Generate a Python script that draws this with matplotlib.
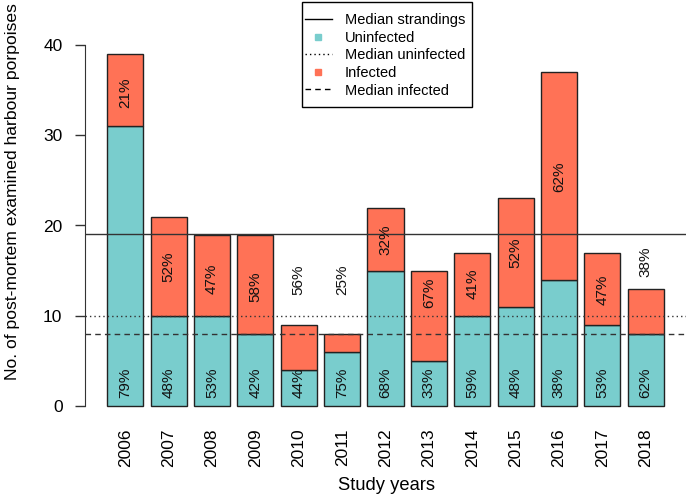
import numpy as np
import matplotlib
matplotlib.use("Agg")
import matplotlib.pyplot as plt
from matplotlib.lines import Line2D
from matplotlib.patches import Rectangle

plt.rcParams['font.family'] = ['Liberation Sans', 'DejaVu Sans']

years = ["2006", "2007", "2008", "2009", "2010", "2011", "2012",
         "2013", "2014", "2015", "2016", "2017", "2018"]
uninfected = [31, 10, 10, 8, 4, 6, 15, 5, 10, 11, 14, 9, 8]
infected = [8, 11, 9, 11, 5, 2, 7, 10, 7, 12, 23, 8, 5]
# vertical position (data units) of the infected-percentage labels
infected_label_y = [34.8, 15.4, 14.1, 13.2, 14, 14, 18.4, 12.5, 13.5, 17, 25.4, 12.9, 16]
uninfected_label_y = 2.5

col_uninf = "#79CDCD"
col_inf = "#FF7256"

uninfected = np.array(uninfected)
infected = np.array(infected)
total = uninfected + infected
pct_inf = np.round(100 * infected / total).astype(int)
pct_uninf = np.round(100 * uninfected / total).astype(int)

fig = plt.figure(figsize=(6.88, 4.95), dpi=100)
ax = fig.add_axes([85 / 688, 75.1 / 495, 601 / 688, 388.8 / 495])

x = 0.7 + 1.2 * np.arange(len(years))
ax.bar(x, uninfected, width=1, color=col_uninf, edgecolor="#222222", linewidth=1, zorder=2)
ax.bar(x, infected, width=1, bottom=uninfected, color=col_inf, edgecolor="#222222",
       linewidth=1, zorder=2)

for xi, pu, pi, yi in zip(x, pct_uninf, pct_inf, infected_label_y):
    ax.text(xi, uninfected_label_y, f"{pu}%", rotation=90, ha="center", va="center",
            fontsize=11, color="#111111", zorder=4)
    ax.text(xi, yi, f"{pi}%", rotation=90, ha="center", va="center",
            fontsize=11, color="#111111", zorder=4)

lc = "#333333"
ax.axhline(np.median(total), color=lc, lw=1, zorder=3)
ax.axhline(np.median(uninfected), color=lc, lw=1, linestyle=(0, (1, 2.2)), zorder=3)
ax.axhline(np.median(infected), color=lc, lw=1, linestyle=(0, (4, 3)), zorder=3)

ax.set_xlim(-0.416, 16.216)
ax.set_ylim(-1.6, 41.6)
for s in ["top", "right", "bottom"]:
    ax.spines[s].set_visible(False)
ax.spines["left"].set_bounds(0, 40)
ax.spines["left"].set_color("#333333")
ax.set_yticks([0, 10, 20, 30, 40])
ax.tick_params(axis="y", length=7.2, width=1, color="#333333", pad=9, labelsize=12.5)
ax.set_xticks(x)
ax.set_xticklabels(years, rotation=90, fontsize=12.5)
ax.tick_params(axis="x", length=0, pad=6)

fig.text(386.5 / 688, 1 - 485 / 495, "Study years", ha="center", va="center", fontsize=13.2)
fig.text(13 / 688, 1 - 192 / 495, "No. of post-mortem examined harbour porpoises",
         rotation=90, ha="center", va="center", fontsize=12.6)

handles = [
    Line2D([], [], color="black", lw=1),
    Line2D([], [], color=col_uninf, marker="s", linestyle="none", markersize=5),
    Line2D([], [], color="black", lw=1, linestyle=(0, (1, 2.2))),
    Line2D([], [], color=col_inf, marker="s", linestyle="none", markersize=5),
    Line2D([], [], color="black", lw=1, linestyle=(0, (4, 3))),
]
labels = ["Median strandings", "Uninfected", "Median uninfected", "Infected", "Median infected"]
leg = fig.legend(handles, labels, loc="upper left", bbox_to_anchor=(305 / 688, 1 - 13 / 495),
                 fontsize=10.5, frameon=False, handlelength=1.85, handletextpad=0.9,
                 labelspacing=0.25, borderpad=0, borderaxespad=0)
fig.add_artist(Rectangle((302 / 688, 1 - 107 / 495), 170 / 688, 105 / 495,
                         transform=fig.transFigure, facecolor="white", edgecolor="black",
                         linewidth=1, zorder=leg.get_zorder() - 0.1))

fig.savefig("out.png", dpi=100)
